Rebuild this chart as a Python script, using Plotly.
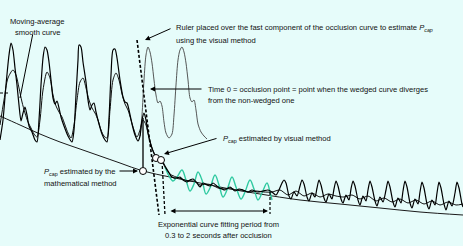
import plotly.graph_objects as go

# time (s) relative to occlusion, pressure (mmHg)
raw_t = [-2.86, -2.80, -2.74, -2.68, -2.64, -2.60, -2.56, -2.52, -2.48, -2.44, -2.40, -2.36, -2.32, -2.28, -2.22, -2.16, -2.12,
         -2.08, -2.04, -2.00, -1.96, -1.92, -1.88, -1.84, -1.80, -1.76, -1.72, -1.68, -1.64, -1.58, -1.50, -1.42,
         -1.38, -1.34, -1.30, -1.28, -1.24, -1.20, -1.14, -1.10, -1.06, -1.02, -0.98, -0.94, -0.88, -0.82, -0.76, -0.72,
         -0.68, -0.64, -0.60, -0.56, -0.52, -0.46, -0.40, -0.36, -0.32, -0.28, -0.22, -0.16, -0.10,
         -0.06, -0.02, 0.02, 0.06, 0.10, 0.16, 0.20, 0.26, 0.32, 0.38, 0.44, 0.50, 0.56, 0.62, 0.68, 0.74, 0.80, 0.88,
         0.94, 1.00, 1.08, 1.14, 1.20, 1.28, 1.34, 1.40, 1.50, 1.58, 1.64, 1.74, 1.84, 1.92, 2.00, 2.10, 2.18, 2.28,
         2.40, 2.50, 2.58,
         2.66, 2.72, 2.78, 2.82, 2.86, 2.92, 2.96, 3.02, 3.08, 3.14, 3.18, 3.22, 3.28, 3.32, 3.38, 3.44, 3.48, 3.52,
         3.56, 3.62, 3.66, 3.72, 3.78, 3.82, 3.86, 3.90, 3.96, 4.00, 4.06, 4.12, 4.16, 4.20, 4.24, 4.30, 4.34, 4.40,
         4.46, 4.50, 4.54, 4.58, 4.64, 4.68, 4.74, 4.80, 4.86, 4.90, 4.94, 5.00, 5.04, 5.10, 5.16, 5.20, 5.24, 5.28,
         5.34, 5.38, 5.44, 5.50, 5.54, 5.58, 5.62, 5.68, 5.72, 5.78, 5.84, 5.88, 5.92, 5.96, 6.02, 6.06, 6.12, 6.18,
         6.24, 6.28, 6.32, 6.38, 6.40]
raw_p = [22.0, 26.0, 33.0, 39.0, 41.4, 40.0, 36.4, 33.0, 29.0, 25.8, 27.4, 28.6, 27.0, 24.8, 23.6, 22.0, 21.6,
         26.0, 33.0, 38.4, 40.6, 40.0, 37.6, 34.0, 30.4, 29.2, 29.8, 28.4, 26.6, 24.8, 22.8, 21.6,
         24.0, 31.0, 38.0, 41.0, 40.6, 37.6, 33.6, 30.0, 28.0, 29.0, 29.4, 27.6, 25.2, 23.2, 22.0, 21.6,
         26.4, 35.0, 40.0, 40.2, 38.4, 34.0, 30.6, 29.6, 29.4, 28.0, 25.2, 23.0, 21.8,
         22.8, 26.0, 27.4, 26.0, 23.4, 21.0, 19.8, 18.6, 18.0, 17.8, 16.8, 15.8, 14.8, 14.4, 14.4, 14.6, 14.0, 13.6,
         14.0, 14.2, 13.4, 12.6, 13.4, 13.0, 12.8, 13.4, 12.6, 12.2, 12.0, 12.6, 11.8, 12.2, 12.0, 11.6, 12.0, 11.6,
         11.8, 12.0, 11.6,
         11.0, 12.0, 13.4, 14.0, 13.4, 10.8, 10.2, 11.6, 10.8, 12.8, 14.0, 13.2, 10.6, 9.8, 11.4, 10.6, 12.4, 14.0,
         13.0, 10.4, 9.6, 11.2, 10.2, 12.2, 13.8, 12.8, 10.2, 9.4, 11.0, 10.0, 12.2, 13.8, 12.8, 10.0, 9.0, 10.8,
         9.8, 12.0, 13.8, 12.6, 9.8, 8.8, 10.6, 9.6, 12.0, 13.8, 12.6, 9.6, 8.6, 10.4, 9.4, 11.8, 13.8, 12.6,
         9.4, 8.4, 10.2, 9.2, 11.6, 13.6, 12.4, 9.2, 8.2, 10.0, 9.0, 11.4, 13.6, 12.4, 9.2, 8.0, 9.8, 8.8,
         11.4, 13.6, 12.4, 9.2, 8.6]

smooth_t = [-2.86, -2.78, -2.70, -2.60, -2.54, -2.48, -2.42, -2.36, -2.30, -2.24, -2.18, -2.12,
            -2.06, -2.00, -1.92, -1.86, -1.80, -1.74, -1.68, -1.62, -1.56, -1.50, -1.44,
            -1.38, -1.32, -1.26, -1.20, -1.14, -1.08, -1.02, -0.96, -0.90, -0.84, -0.78, -0.72,
            -0.66, -0.60, -0.54, -0.48, -0.42, -0.36, -0.30, -0.24, -0.18, -0.12,
            -0.06, 0.00, 0.06, 0.12, 0.18, 0.24, 0.30, 0.36,
            0.44, 0.54, 0.66, 0.78, 0.90, 1.02, 1.14, 1.26, 1.38, 1.50, 1.62, 1.74, 1.86, 1.98, 2.10, 2.26, 2.42, 2.58,
            2.74, 2.90, 3.06, 3.22, 3.38, 3.54, 3.70, 3.86, 4.02, 4.18, 4.34, 4.50, 4.66, 4.82, 4.98, 5.14, 5.30,
            5.46, 5.62, 5.78, 5.94, 6.10, 6.26, 6.40]
smooth_p = [25.0, 30.0, 34.4, 36.0, 35.0, 32.4, 29.6, 27.4, 25.6, 24.4, 23.2, 22.6,
            26.0, 32.0, 35.6, 34.4, 31.0, 28.8, 27.6, 26.6, 25.0, 23.4, 22.4,
            25.0, 30.0, 33.6, 34.4, 32.4, 30.0, 28.4, 27.4, 26.0, 24.0, 22.8, 22.4,
            28.0, 34.0, 35.4, 34.0, 31.2, 29.2, 28.0, 26.0, 24.0, 22.6,
            24.0, 26.0, 25.0, 22.4, 20.4, 19.0, 18.4, 18.0,
            16.6, 15.2, 14.6, 14.2, 13.8, 13.8, 13.0, 13.2, 13.0, 12.4, 12.2, 12.4, 12.0, 12.0, 11.6, 11.8, 11.6, 11.6,
            12.0, 11.0, 11.8, 10.8, 11.4, 10.6, 11.2, 10.8, 10.6, 11.0, 10.2, 10.8, 9.8, 10.4, 9.6, 10.2, 9.4,
            10.0, 9.2, 9.8, 9.0, 9.6, 9.0, 9.2]

nonwedged_t = [-0.06, -0.02, 0.02, 0.06, 0.10, 0.14, 0.18, 0.22, 0.26, 0.30, 0.34, 0.38, 0.42, 0.46, 0.52,
               0.58, 0.62, 0.66, 0.70, 0.74, 0.78, 0.82, 0.86, 0.90, 0.94, 0.98, 1.02, 1.06, 1.10, 1.16, 1.22, 1.28]
nonwedged_p = [22.8, 27.0, 34.0, 39.0, 40.6, 39.6, 37.4, 34.0, 31.0, 29.4, 29.8, 28.8, 25.6, 23.4, 22.4,
               23.2, 27.0, 33.0, 38.0, 40.0, 40.6, 39.6, 37.4, 34.0, 30.4, 29.6, 30.0, 28.0, 25.2, 23.6, 22.8, 22.2]

fit_t = [0.44, 0.52, 0.60, 0.68, 0.78, 0.86, 0.94, 1.02, 1.10, 1.18, 1.26, 1.34, 1.44, 1.52, 1.60, 1.68,
         1.78, 1.86, 1.96, 2.04, 2.14, 2.22, 2.30, 2.38, 2.48, 2.54, 2.58]
fit_p = [16.6, 14.8, 13.8, 14.6, 16.0, 14.0, 11.8, 13.2, 15.6, 14.0, 11.2, 12.4, 15.0, 13.0, 10.6, 12.0,
         14.6, 12.6, 10.2, 11.6, 14.0, 12.2, 10.0, 11.4, 13.4, 11.6, 10.0]

exp_t = [-2.86, -2.46, -2.06, -1.66, -1.26, -0.86, -0.46, 0.00, 0.54, 1.14, 1.74, 2.34, 3.14, 3.94, 4.74, 5.54, 6.40]
exp_p = [26.8, 25.0, 23.2, 21.6, 20.2, 18.8, 17.4, 15.8, 14.6, 13.4, 12.2, 11.2, 10.0, 9.2, 8.4, 7.6, 7.0]

ruler_t = [-0.12, 0.32]
ruler_p = [42.0, 7.0]
visual_drop_t = [0.38, 0.44]
visual_drop_p = [17.8, 7.0]
end_drop_t = [2.54, 2.54]
end_drop_p = [11.6, 7.2]
mean_t = [-2.86, -2.68]
mean_p = [31.4, 31.4]
time0_t = [0.0, 0.0]
time0_p = [26.4, 16.6]

pcap_math_t = [0.0]
pcap_math_p = [15.8]
pcap_vis_t = [0.26, 0.36]
pcap_vis_p = [18.4, 18.0]

BG = "#E6FCFA"
FONT = "Liberation Sans, Arial, Helvetica, sans-serif"
FS = 7.6

fig = go.Figure()
fig.add_trace(go.Scatter(x=exp_t, y=exp_p, mode="lines", line=dict(color="#1a1a1a", width=1, shape="spline")))
fig.add_trace(go.Scatter(x=fit_t, y=fit_p, mode="lines", line=dict(color="#2FC9A0", width=1.4, shape="spline")))
fig.add_trace(go.Scatter(x=nonwedged_t, y=nonwedged_p, mode="lines",
                         line=dict(color="#444444", width=0.9, shape="spline", smoothing=0.8)))
fig.add_trace(go.Scatter(x=smooth_t, y=smooth_p, mode="lines",
                         line=dict(color="#111111", width=1.0, shape="spline", smoothing=0.8)))
fig.add_trace(go.Scatter(x=raw_t, y=raw_p, mode="lines",
                         line=dict(color="#000000", width=1.2, shape="spline", smoothing=0.7)))
for xs, ys, w in [(ruler_t, ruler_p, 1.6), (visual_drop_t, visual_drop_p, 1.3),
                  (end_drop_t, end_drop_p, 1.2), (mean_t, mean_p, 1.2)]:
    fig.add_trace(go.Scatter(x=xs, y=ys, mode="lines", line=dict(color="#000", width=w, dash="3px,2px")))
fig.add_trace(go.Scatter(x=time0_t, y=time0_p, mode="lines", line=dict(color="#000", width=1.3)))
fig.add_trace(go.Scatter(x=pcap_math_t + pcap_vis_t, y=pcap_math_p + pcap_vis_p, mode="markers",
                         marker=dict(symbol="circle", size=7, color="white", line=dict(color="#000", width=1))))

def arrow(hx, hy, tx, ty, head=2, side="end"):
    fig.add_annotation(x=hx, y=hy, ax=tx, ay=ty, xref="x", yref="y", axref="x", ayref="y",
                       text="", showarrow=True, arrowhead=head, arrowsize=1, arrowwidth=1,
                       arrowcolor="#000", standoff=0, startstandoff=0, arrowside=side)

arrow(0.04, 42.0, 0.58, 44.4)
arrow(0.14, 32.2, 1.20, 32.2)
arrow(0.42, 19.2, 1.50, 22.4)
arrow(-0.10, 15.8, -0.50, 15.8)
arrow(-2.46, 30.4, -2.20, 43.4, head=0)
arrow(2.50, 7.8, 0.52, 7.8, side="end+start")

def label(x, y, txt, anchor="left"):
    fig.add_annotation(x=x, y=y, xref="x", yref="y", text=txt, showarrow=False, xanchor=anchor,
                       yanchor="middle", font=dict(family=FONT, size=FS, color="#111"))

PC = "<i>P</i><sub>cap</sub>"
label(-2.12, 45.8, "Moving-average", "center")
label(-2.10, 43.6, "smooth curve", "center")
label(0.62, 44.4, "Ruler placed over the fast component of the occlusion curve to estimate <i>P<sub>cap</sub></i>")
label(0.62, 42.0, "using the visual method")
label(1.26, 32.2, "Time 0 = occlusion point = point when the wedged curve diverges")
label(1.26, 30.0, "from the non-wedged one")
label(1.56, 22.2, PC + " estimated by visual method")
label(-2.02, 15.6, PC + " estimated by the")
label(-2.02, 13.4, "mathematical method")
label(1.50, 5.2, "Exponential curve fitting period from", "center")
label(1.50, 3.0, "0.3 to 2 seconds after occlusion", "center")

fig.update_layout(width=463, height=246, margin=dict(l=0, r=0, t=0, b=0), autosize=False,
                  showlegend=False, paper_bgcolor=BG, plot_bgcolor=BG)
fig.update_xaxes(range=[-2.86, 6.40], visible=False, showgrid=False, zeroline=False)
fig.update_yaxes(range=[0.8, 50.0], visible=False, showgrid=False, zeroline=False)
fig.write_html("out.html")
